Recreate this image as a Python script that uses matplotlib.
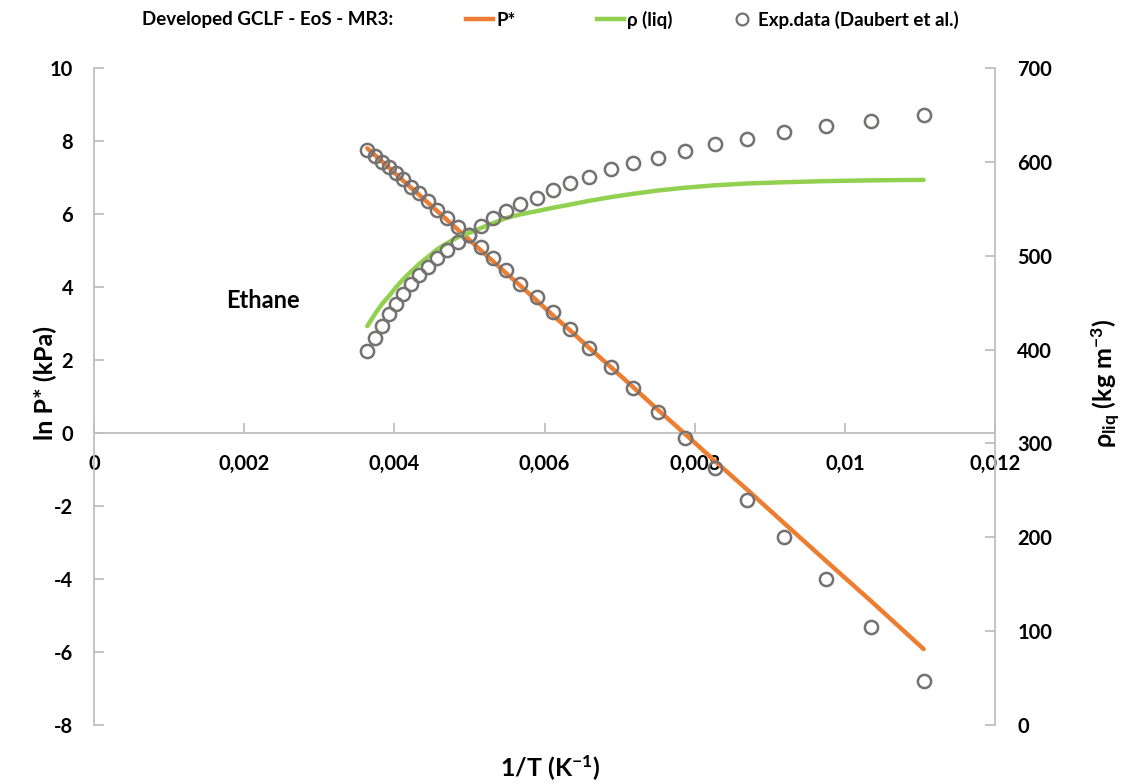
import matplotlib
matplotlib.use("Agg")
import matplotlib.pyplot as plt
import numpy as np
from matplotlib.lines import Line2D
from matplotlib.ticker import FuncFormatter, MultipleLocator

plt.rcParams["font.family"] = ["Lato", "DejaVu Sans"]
plt.rcParams["font.weight"] = "bold"
plt.rcParams["axes.unicode_minus"] = False
plt.rcParams["mathtext.fontset"] = "custom"
plt.rcParams["mathtext.rm"] = "Lato:bold"
plt.rcParams["mathtext.it"] = "Lato:bold"
plt.rcParams["mathtext.bf"] = "Lato:bold"

# ---------------------------------------------------------------------------
# Data (ethane)
# ---------------------------------------------------------------------------
temp_K = [274.7, 267.2, 260.4, 254.5, 248.9, 242.7, 236.9, 231.0, 224.6, 218.7,
          212.5, 206.1, 200.0, 194.0, 188.3, 182.4, 176.2, 169.6, 163.7, 157.7,
          151.6, 145.2, 139.2, 133.1, 127.0, 120.9, 114.9, 108.8, 102.6, 96.6, 90.5]

lnp_exp = [7.75, 7.59, 7.43, 7.30, 7.13, 6.95, 6.75, 6.57, 6.36, 6.11,
           5.88, 5.65, 5.42, 5.10, 4.79, 4.47, 4.08, 3.72, 3.32, 2.84,
           2.34, 1.82, 1.22, 0.58, -0.15, -0.97, -1.84, -2.84, -4.00, -5.31, -6.80]

lnp_model = [7.80, 7.61, 7.43, 7.27, 7.10, 6.91, 6.72, 6.53, 6.30, 6.08,
             5.83, 5.56, 5.29, 5.00, 4.71, 4.39, 4.04, 3.63, 3.23, 2.81,
             2.33, 1.80, 1.25, 0.63, -0.03, -0.77, -1.56, -2.47, -3.50, -4.61, -5.92]

rho_exp = [398.8, 412.0, 425.1, 437.6, 448.6, 459.2, 469.5, 479.4, 488.3, 497.9,
           506.1, 514.9, 522.1, 531.6, 539.8, 547.6, 555.1, 561.8, 570.0, 577.8,
           584.2, 592.1, 598.4, 604.4, 611.5, 618.7, 624.0, 631.5, 638.2, 643.8, 649.9]

rho_model = [425.0, 438.0, 449.0, 457.0, 466.0, 475.0, 483.0, 491.0, 499.0, 507.0,
             513.5, 520.0, 524.5, 529.5, 534.5, 540.0, 544.0, 547.5, 551.0, 554.5,
             558.5, 562.5, 566.0, 569.5, 572.5, 575.0, 577.0, 578.3, 579.5, 580.3, 580.8]

legend_labels = ["P*", "ρ (liq)", "Exp.data (Daubert et al.)"]

ORANGE = "#ED7D31"
GREEN = "#92D050"
GREY = "#767171"
AXIS = "#BFBFBF"
W, H = 1128, 783


def comma_fmt(v, _pos):
    s = f"{v:.3f}".rstrip("0").rstrip(".")
    return s.replace(".", ",")


inv_T = 1.0 / np.array(temp_K)

fig = plt.figure(figsize=(W / 100, H / 100), dpi=100)
ax = fig.add_axes([94 / W, 1 - 725 / H, 901 / W, 657 / H])
ax2 = ax.twinx()

# P* on the left axis
ax.plot(inv_T, lnp_model, color=ORANGE, lw=3.2, solid_capstyle="round", zorder=2)
ax.plot(inv_T, lnp_exp, ls="none", marker="o", ms=9.5, mfc="none", mec=GREY,
        mew=1.8, zorder=3)

# liquid density on the right axis
ax2.plot(inv_T, rho_model, color=GREEN, lw=3.2, solid_capstyle="round", zorder=2)
ax2.plot(inv_T, rho_exp, ls="none", marker="o", ms=9.5, mfc="none", mec=GREY,
         mew=1.8, zorder=3)

ax.set_xlim(0, 0.012)
ax.set_ylim(-8, 10)
ax2.set_ylim(0, 700)
ax.xaxis.set_major_locator(MultipleLocator(0.002))
ax.yaxis.set_major_locator(MultipleLocator(2))
ax2.yaxis.set_major_locator(MultipleLocator(100))
ax.xaxis.set_major_formatter(FuncFormatter(comma_fmt))

ax.spines["bottom"].set_position(("data", 0))
for a in (ax, ax2):
    a.spines["top"].set_visible(False)
    for sp in a.spines.values():
        sp.set_color(AXIS)
        sp.set_linewidth(1.3)
ax.spines["right"].set_visible(False)
ax2.spines["left"].set_visible(False)
ax2.spines["bottom"].set_visible(False)

ax.tick_params(axis="x", direction="in", length=7, width=1.3, color=AXIS,
               labelsize=14.5, pad=15)
ax.tick_params(axis="y", direction="in", length=7, width=1.3, color=AXIS,
               labelsize=14.5, pad=15)
ax2.tick_params(axis="y", direction="in", length=7, width=1.3, color=AXIS,
                labelsize=14.5, pad=16)

ax.set_ylabel("ln P* (kPa)", fontsize=18, fontweight="bold")
ax.yaxis.set_label_coords(-0.041, 0.52)
ax2.set_ylabel(r"ρ$_\mathrm{liq}$ (kg m$^\mathrm{-3}$)", fontsize=18,
               fontweight="bold")
ax2.yaxis.set_label_coords(1.105, 0.52)
ax.set_xlabel(r"1/T (K$^\mathrm{-1}$)", fontsize=18, fontweight="bold")
ax.xaxis.set_label_coords(0.506, -0.044)

ax.text(0.00225, 3.64, "Ethane", fontsize=17, fontweight="bold",
        ha="center", va="center")

# legend row at the top, items placed one by one
y_leg = 1 - 20 / H
fig.text(268 / W, y_leg, "Developed GCLF - EoS - MR3:", fontsize=13.5,
         fontweight="bold", ha="center", va="center")
handles = [
    Line2D([], [], color=ORANGE, lw=3.2),
    Line2D([], [], color=GREEN, lw=3.2),
    Line2D([], [], ls="none", marker="o", ms=8.5, mfc="none", mec=GREY, mew=1.6),
]
x_starts = [466, 597, 728]
for h, lab, xs in zip(handles, legend_labels, x_starts):
    fig.legend([h], [lab], loc="center left", bbox_to_anchor=(xs / W, y_leg),
               frameon=False, handlelength=1.45, handletextpad=0.15,
               borderpad=0, borderaxespad=0,
               prop={"weight": "bold", "size": 13.5})

fig.savefig("out.png", dpi=100)
